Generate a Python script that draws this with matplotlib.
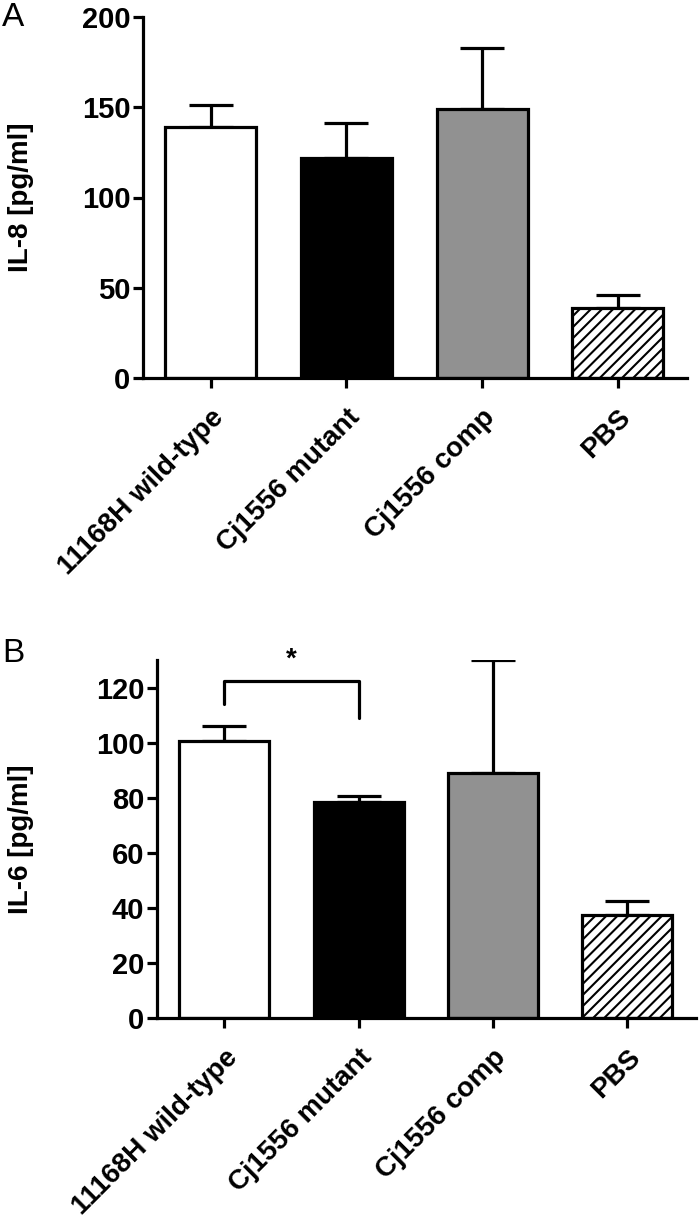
import numpy as np
import matplotlib.pyplot as plt

plt.rcParams["font.family"] = ["Liberation Sans", "DejaVu Sans"]
plt.rcParams["font.weight"] = "bold"
plt.rcParams["axes.linewidth"] = 2.3
plt.rcParams["xtick.major.size"] = 7
plt.rcParams["xtick.major.width"] = 2.3
plt.rcParams["ytick.major.size"] = 7
plt.rcParams["ytick.major.width"] = 2.3
plt.rcParams["hatch.linewidth"] = 1.5

# data
groups = ["11168H wild-type", "Cj1556 mutant", "Cj1556 comp", "PBS"]
il8_mean = [139, 122, 149, 39]
il8_err = [12, 19, 34, 7]
il6_mean = [100.5, 78.5, 89, 37.5]
il6_err = [5.5, 2, 41, 5]
colors = ["white", "black", "#919191", "white"]
hatches = [None, None, None, "///"]


def draw_panel(ax, means, errs, ylim, yticks, ylabel, label_x):
    x = np.arange(len(groups))
    for i in range(len(groups)):
        ax.bar(x[i], means[i], width=0.67, color=colors[i], edgecolor="black",
               linewidth=2.3, hatch=hatches[i], zorder=2)
    ax.errorbar(x, means, yerr=[np.zeros(len(errs)), errs], fmt="none",
                ecolor="black", elinewidth=2.3, capsize=16, capthick=2.3, zorder=1)
    ax.set_xlim(-0.5, 3.51)
    ax.set_ylim(*ylim)
    ax.set_yticks(yticks)
    ax.set_xticks(x)
    ax.set_xticklabels(groups, rotation=45, ha="right", rotation_mode="anchor",
                       fontsize=20)
    ax.tick_params(axis="x", pad=12)
    ax.tick_params(axis="y", labelsize=21, pad=2)
    ax.set_ylabel(ylabel, fontsize=20, fontweight="bold")
    ax.yaxis.set_label_coords(label_x, 0.5)
    ax.spines["top"].set_visible(False)
    ax.spines["right"].set_visible(False)


fig = plt.figure(figsize=(7, 12.27), dpi=100)

axA = fig.add_axes([143 / 700, 1 - 378 / 1227, 544 / 700, 361 / 1227])
draw_panel(axA, il8_mean, il8_err, (0, 200), [0, 50, 100, 150, 200],
           "IL-8 [pg/ml]", (34 - 143) / 544)

axB = fig.add_axes([157 / 700, 1 - 1018 / 1227, 539 / 700, 358 / 1227])
draw_panel(axB, il6_mean, il6_err, (0, 130), [0, 20, 40, 60, 80, 100, 120],
           "IL-6 [pg/ml]", (34 - 157) / 539)

# significance bracket between wild-type and mutant
axB.plot([0, 0, 1, 1], [114, 122.5, 122.5, 109], color="black", lw=2.3,
         solid_capstyle="round", clip_on=False)
axB.text(0.5, 130, "*", ha="center", va="center", fontsize=20, clip_on=False)

fig.text(2 / 700, 1 - 18 / 1227, "A", fontsize=24, fontweight="normal", va="center")
fig.text(2 / 700, 1 - 653 / 1227, "B", fontsize=24, fontweight="normal", va="center")

plt.savefig("out.png", dpi=100)
